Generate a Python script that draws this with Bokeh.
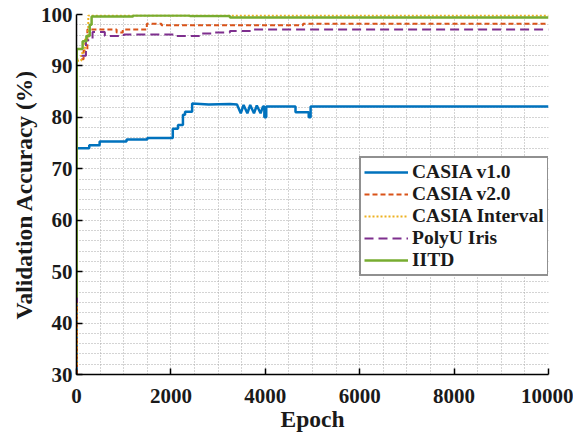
from bokeh.plotting import figure
from bokeh.models import Legend, LegendItem, SingleIntervalTicker, FixedTicker, Range1d
from bokeh.embed import file_html
from bokeh.resources import INLINE

# ---- data ----
x_ticks = [0, 2000, 4000, 6000, 8000, 10000]
y_ticks = [30, 40, 50, 60, 70, 80, 90, 100]

# CASIA v1.0 (drawn as a polyline: it has steps and zig-zags)
v1_epoch = [0, 0, 270, 270, 490, 490, 1060, 1060, 1500, 1500, 2040, 2040, 2150, 2150,
            2255, 2255, 2300, 2300, 2450, 2450, 2800, 3250, 3400, 3480, 3540, 3620,
            3680, 3760, 3820, 3900, 3950, 3980, 3980, 4020, 4020, 4640, 4640, 4920,
            4920, 4960, 4960, 10000]
v1_acc = [30, 74.0, 74.0, 74.6, 74.6, 75.3, 75.3, 75.7, 75.7, 76.0, 76.0, 77.8, 77.8, 78.5,
          78.5, 80.5, 80.5, 81.1, 81.1, 82.7, 82.5, 82.6, 82.5, 80.8, 82.4, 80.8,
          82.4, 80.8, 82.3, 80.8, 82.1, 82.1, 80.0, 80.0, 82.1, 82.1, 81.0, 81.0,
          80.0, 80.0, 82.1, 82.1]

# CASIA v2.0 (step after)
v2_epoch = [0, 10, 150, 230, 850, 980, 1490, 1800, 4800, 10000]
v2_acc = [30, 91.3, 93.0, 97.1, 96.5, 97.1, 98.2, 97.9, 98.2, 98.2]

# CASIA Interval (step after)
int_epoch = [0, 10, 100, 180, 250, 10000]
int_acc = [32, 91.0, 92.5, 95.5, 99.8, 99.8]

# PolyU Iris (step after)
poly_epoch = [0, 10, 200, 340, 600, 1000, 2100, 2600, 2900, 3250, 3750, 10000]
poly_acc = [44, 92.0, 95.0, 96.6, 95.8, 96.1, 95.8, 96.3, 96.5, 96.8, 97.1, 97.1]

# IITD (step after)
iitd_epoch = [0, 5, 130, 210, 280, 320, 1200, 2400, 3250, 10000]
iitd_acc = [45, 93.3, 94.8, 95.8, 98.0, 99.6, 99.8, 99.7, 99.4, 99.4]

names = ["CASIA v1.0", "CASIA v2.0", "CASIA Interval", "PolyU Iris", "IITD"]
colors = ["#0072BD", "#D95319", "#EDB120", "#7E2F8E", "#77AC30"]

FONT = "Liberation Serif"

p = figure(width=573, height=434, output_backend="svg", toolbar_location=None,
           x_range=Range1d(0, 10000), y_range=Range1d(30, 100),
           min_border_left=76, min_border_right=25, min_border_top=14, min_border_bottom=57)
p.title.visible = False
p.outline_line_color = None
p.background_fill_color = "white"

# grid: dotted lines every 500 epochs / 2 %
p.xgrid.ticker = SingleIntervalTicker(interval=500)
p.ygrid.ticker = SingleIntervalTicker(interval=2)
for g in (p.xgrid, p.ygrid):
    g.grid_line_color = "#a8a8a8"
    g.grid_line_dash = "1 2"
    g.grid_line_width = 1

p.xaxis.ticker = FixedTicker(ticks=x_ticks)
p.yaxis.ticker = FixedTicker(ticks=y_ticks)
for ax in (p.xaxis, p.yaxis):
    ax.axis_line_color = "black"
    ax.axis_line_width = 1.5
    ax.major_tick_in = 6
    ax.major_tick_out = 0
    ax.major_tick_line_color = "black"
    ax.major_tick_line_width = 1.5
    ax.minor_tick_in = 0
    ax.minor_tick_out = 0
    ax.major_label_text_font = FONT
    ax.major_label_text_font_style = "bold"
    ax.major_label_text_font_size = "21px"
    ax.major_label_text_color = "#1a1a1a"
    ax.axis_label_text_font = FONT
    ax.axis_label_text_font_style = "bold"
    ax.axis_label_text_font_size = "23.5px"
    ax.axis_label_text_color = "#1a1a1a"
p.xaxis.axis_label = "Epoch"
p.yaxis.axis_label = "Validation Accuracy (%)"
p.xaxis.major_label_standoff = 14
p.yaxis.major_label_standoff = 4
p.xaxis.axis_label_standoff = 0
p.yaxis.axis_label_standoff = 1

r1 = p.line(v1_epoch, v1_acc, line_color=colors[0], line_width=2.5)
r2 = p.step(v2_epoch, v2_acc, mode="after", line_color=colors[1], line_width=2, line_dash="5 3")
r3 = p.step(int_epoch, int_acc, mode="after", line_color=colors[2], line_width=2, line_dash="2 2")
r4 = p.step(poly_epoch, poly_acc, mode="after", line_color=colors[3], line_width=2, line_dash="9 5")
r5 = p.step(iitd_epoch, iitd_acc, mode="after", line_color=colors[4], line_width=2.5)

legend = Legend(items=[LegendItem(label=n, renderers=[r]) for n, r in zip(names, [r1, r2, r3, r4, r5])],
                location=(283, 98))
legend.label_text_font = FONT
legend.label_text_font_style = "bold"
legend.label_text_font_size = "19.5px"
legend.label_text_color = "#1a1a1a"
legend.glyph_width = 44
legend.glyph_height = 20
legend.label_height = 21
legend.label_standoff = 4
legend.spacing = 0
legend.padding = 3
legend.margin = 0
legend.border_line_color = "#222222"
legend.border_line_width = 2
legend.background_fill_color = "white"
legend.background_fill_alpha = 1
p.add_layout(legend, "center")

open("out.html", "w").write(file_html(p, INLINE))
